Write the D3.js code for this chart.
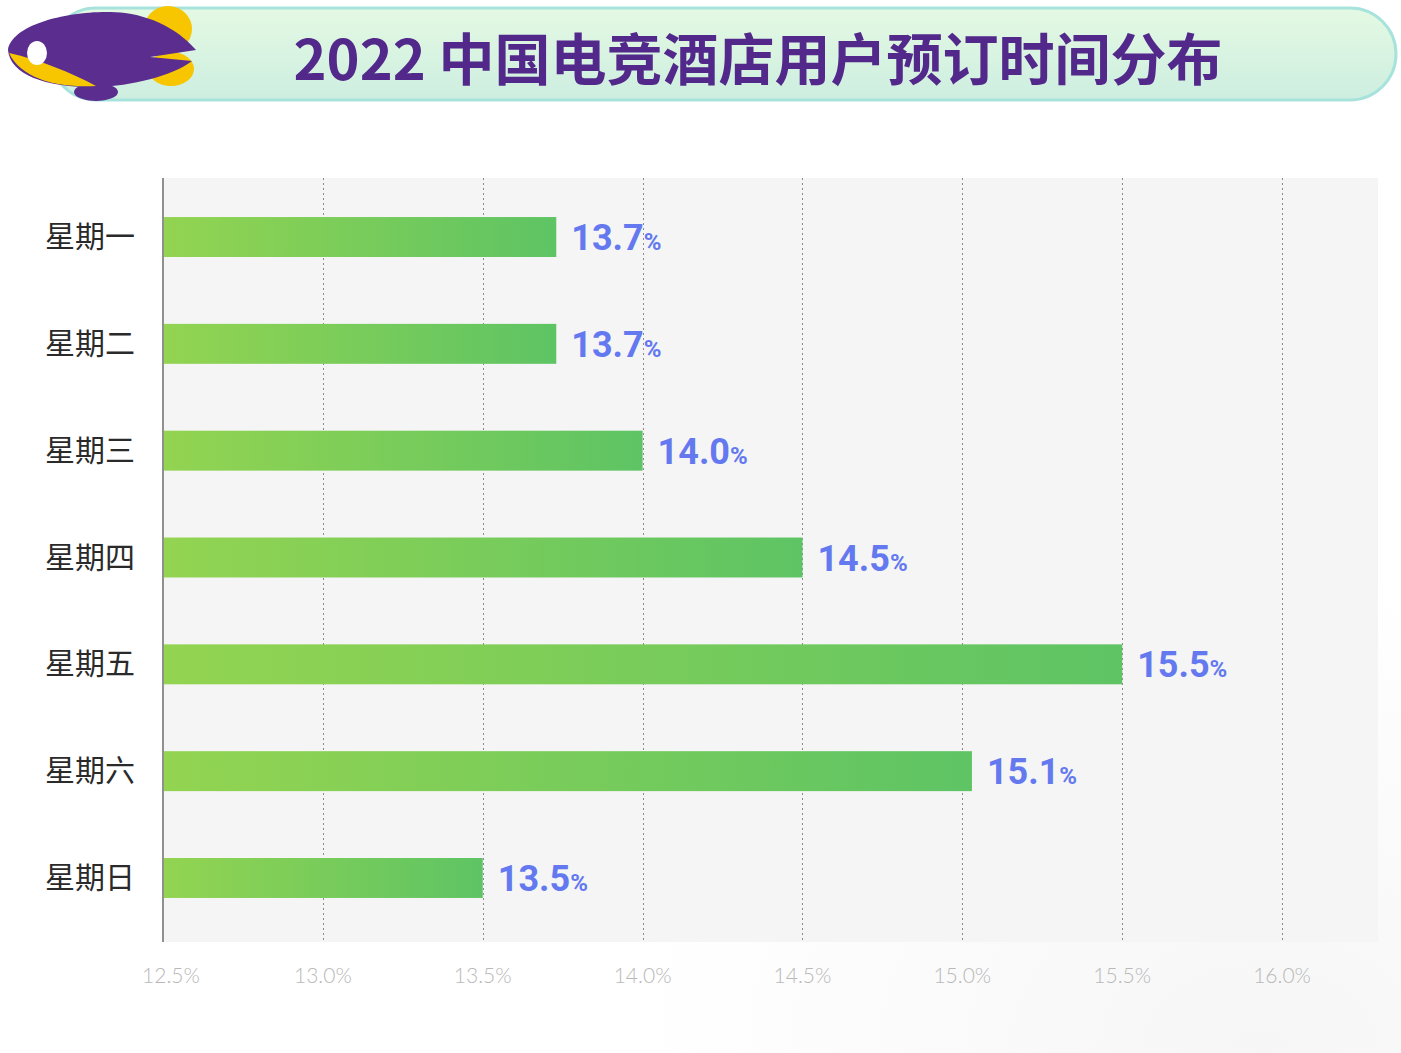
<!DOCTYPE html>
<html>
<head>
<meta charset="utf-8">
<script src="https://cdn.jsdelivr.net/npm/d3@7"></script>
<style>
  html, body { margin: 0; padding: 0; background: #ffffff; }
  svg { display: block; }
</style>
</head>
<body>
<div id="chart"></div>
<script>
const title = "2022 中国电竞酒店用户预订时间分布";
const categories = ["星期一", "星期二", "星期三", "星期四", "星期五", "星期六", "星期日"];
const values = [13.73, 13.73, 14.0, 14.5, 15.5, 15.03, 13.5];
const valueLabels = ["13.7", "13.7", "14.0", "14.5", "15.5", "15.1", "13.5"];
const tickValues = [12.5, 13.0, 13.5, 14.0, 14.5, 15.0, 15.5, 16.0];
const tickLabels = ["12.5%", "13.0%", "13.5%", "14.0%", "14.5%", "15.0%", "15.5%", "16.0%"];

const W = 1401, H = 1053;
const plot = { left: 163, right: 1378, top: 178, bottom: 942 };

const svg = d3.select("#chart").append("svg").attr("width", W).attr("height", H);
const defs = svg.append("defs");

const bannerGrad = defs.append("linearGradient").attr("id", "bannerGrad")
  .attr("x1", 0).attr("y1", 0).attr("x2", 0).attr("y2", 1);
bannerGrad.append("stop").attr("offset", "0%").attr("stop-color", "#e4f9e3");
bannerGrad.append("stop").attr("offset", "100%").attr("stop-color", "#cdeee0");

const barGrad = defs.append("linearGradient").attr("id", "barGrad")
  .attr("x1", 0).attr("y1", 0).attr("x2", 1).attr("y2", 0);
barGrad.append("stop").attr("offset", "0%").attr("stop-color", "#93d451");
barGrad.append("stop").attr("offset", "100%").attr("stop-color", "#5ec464");

const bgGrad = defs.append("radialGradient").attr("id", "bgGrad")
  .attr("cx", 0.9).attr("cy", 1).attr("r", 0.45);
bgGrad.append("stop").attr("offset", "0%").attr("stop-color", "#f6f6f6");
bgGrad.append("stop").attr("offset", "100%").attr("stop-color", "#ffffff");

svg.append("rect").attr("width", W).attr("height", H).attr("fill", "url(#bgGrad)");

// Banner
svg.append("rect")
  .attr("x", 50).attr("y", 8).attr("width", 1346).attr("height", 92)
  .attr("rx", 46).attr("ry", 46)
  .attr("fill", "url(#bannerGrad)").attr("stroke", "#a7e3dc").attr("stroke-width", 3);

svg.append("text")
  .attr("x", 758).attr("y", 80)
  .attr("text-anchor", "middle")
  .attr("font-family", "'Noto Sans CJK SC', 'Noto Sans', sans-serif")
  .attr("font-weight", 700).attr("font-size", 56)
  .attr("fill", "#52298a")
  .text(title);

// Logo (fish/blimp)
const logo = svg.append("g");
logo.append("ellipse").attr("cx", 168).attr("cy", 29).attr("rx", 24).attr("ry", 23).attr("fill", "#f7c600");
logo.append("ellipse").attr("cx", 171).attr("cy", 69).attr("rx", 23).attr("ry", 17).attr("fill", "#f7c600");
logo.append("ellipse").attr("cx", 96).attr("cy", 92).attr("rx", 22).attr("ry", 9).attr("fill", "#5a2d8f");
logo.append("path")
  .attr("d", "M8,50 C12,22 80,8 125,13 C160,18 182,34 196,50 L150,57 L192,61 C172,76 132,86 96,87 C50,88 10,76 8,50 Z")
  .attr("fill", "#5a2d8f");
logo.append("path")
  .attr("d", "M9,53 C40,60 70,72 96,86 C60,88 22,80 9,53 Z")
  .attr("fill", "#f7c600");
logo.append("ellipse").attr("cx", 37).attr("cy", 53).attr("rx", 10).attr("ry", 12).attr("fill", "#ffffff");

// Scales
const x = d3.scaleLinear().domain([12.5, 16.3]).range([plot.left, plot.right]);
const y = d3.scaleBand().domain(categories).range([183.6, 931.4]).paddingInner(0.626).paddingOuter(0.313);

// Plot background
svg.append("rect")
  .attr("x", plot.left).attr("y", plot.top)
  .attr("width", plot.right - plot.left).attr("height", plot.bottom - plot.top)
  .attr("fill", "#f5f5f5");

// Grid lines
svg.append("g").selectAll("line").data(tickValues.slice(1)).join("line")
  .attr("x1", d => Math.round(x(d)) + 0.5).attr("x2", d => Math.round(x(d)) + 0.5)
  .attr("y1", plot.top).attr("y2", plot.bottom)
  .attr("stroke", "#8a8a8a").attr("stroke-width", 1).attr("stroke-dasharray", "2,3");

// Bars
svg.append("g").selectAll("rect").data(categories).join("rect")
  .attr("x", plot.left)
  .attr("y", d => y(d))
  .attr("width", (d, i) => x(values[i]) - plot.left)
  .attr("height", y.bandwidth())
  .attr("fill", "url(#barGrad)");

// Y axis line
svg.append("line")
  .attr("x1", plot.left).attr("x2", plot.left)
  .attr("y1", plot.top).attr("y2", plot.bottom)
  .attr("stroke", "#909090").attr("stroke-width", 2);

// Category labels
svg.append("g").selectAll("text").data(categories).join("text")
  .attr("x", 135)
  .attr("y", d => y(d) + y.bandwidth() / 2 + 10)
  .attr("text-anchor", "end")
  .attr("font-family", "'Noto Sans CJK SC', sans-serif")
  .attr("font-size", 30)
  .attr("fill", "#2a2a2a")
  .text(d => d);

// Value labels
const vl = svg.append("g").selectAll("text").data(categories).join("text")
  .attr("x", (d, i) => x(values[i]) + 15)
  .attr("y", d => y(d) + y.bandwidth() / 2 + 13)
  .attr("font-family", "Roboto, 'Liberation Sans', sans-serif")
  .attr("font-weight", 700)
  .attr("font-size", 36)
  .attr("fill", "#6479ef");
vl.append("tspan").text((d, i) => valueLabels[i]);
vl.append("tspan").attr("font-size", 24).text("%");

// X tick labels
svg.append("g").selectAll("text").data(tickValues).join("text")
  .attr("x", (d, i) => x(d) + (i === 0 ? 8 : 0))
  .attr("y", 983)
  .attr("text-anchor", "middle")
  .attr("font-family", "Lato, 'Open Sans', sans-serif")
  .attr("font-weight", 300)
  .attr("font-size", 21)
  .attr("fill", "#b8b8b8")
  .text((d, i) => tickLabels[i]);
</script>
</body>
</html>
